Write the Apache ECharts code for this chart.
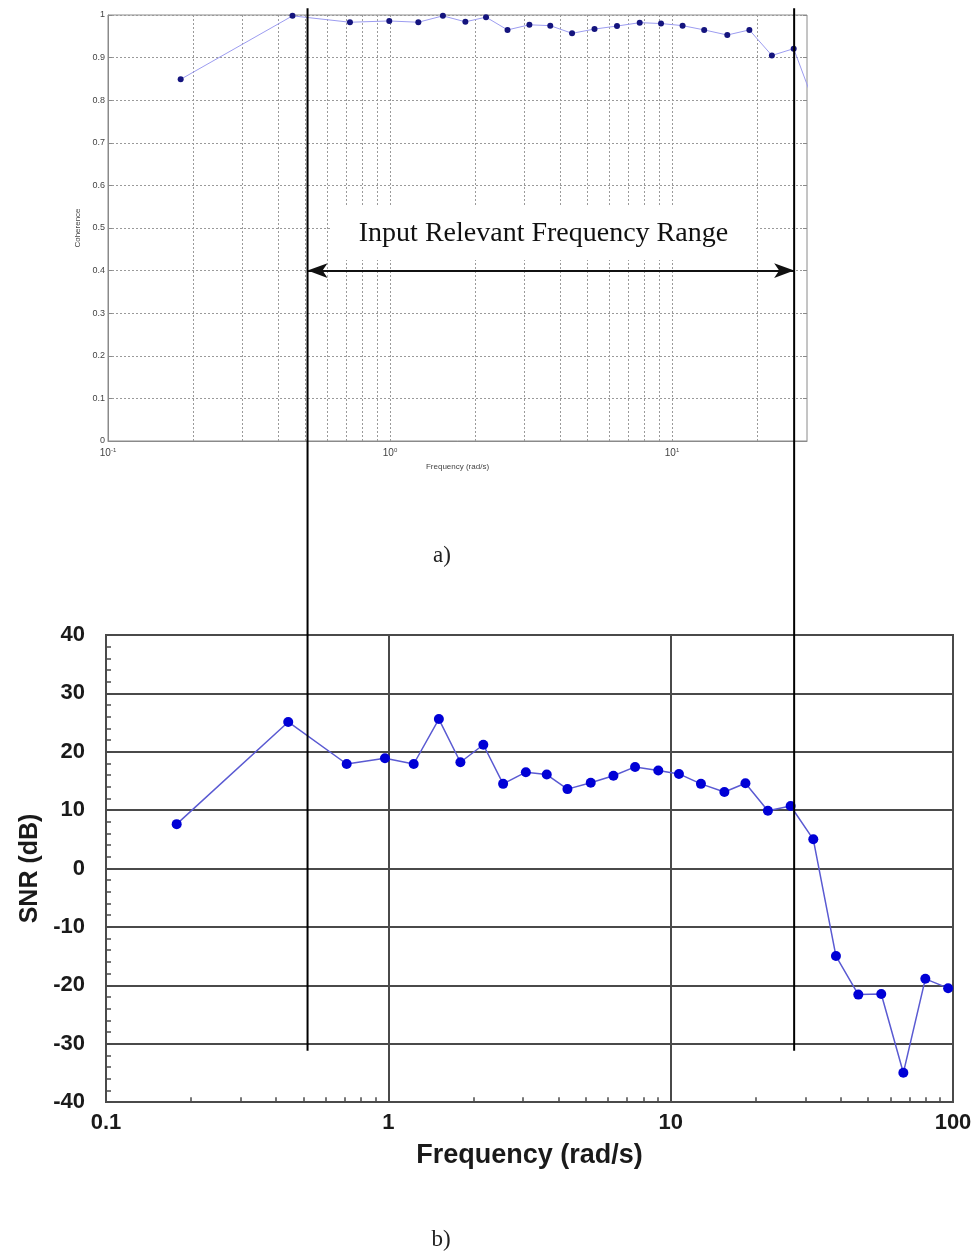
<!DOCTYPE html>
<html>
<head>
<meta charset="utf-8">
<script src="https://cdn.jsdelivr.net/npm/echarts@6/dist/echarts.min.js"></script>
<style>
html, body { margin: 0; padding: 0; background: #fff; }
#main { width: 976px; height: 1258px; }
</style>
</head>
<body>
<div id="main"></div>
<script>
// (a) coherence vs frequency
var cohFreq = [0.181, 0.451, 0.721, 0.994, 1.26, 1.54, 1.85, 2.19, 2.61, 3.12, 3.70, 4.42, 5.31, 6.38, 7.68, 9.14, 10.9, 13.0, 15.7, 18.8, 22.6, 27.0, 32.0];
var cohVal  = [0.849, 0.998, 0.983, 0.986, 0.983, 0.998, 0.984, 0.995, 0.965, 0.977, 0.975, 0.957, 0.967, 0.974, 0.982, 0.980, 0.975, 0.965, 0.953, 0.965, 0.905, 0.921, 0.79];

// (b) SNR vs frequency
var snrFreq = [0.178, 0.442, 0.712, 0.973, 1.23, 1.51, 1.80, 2.17, 2.55, 3.07, 3.64, 4.31, 5.21, 6.27, 7.48, 9.04, 10.7, 12.8, 15.5, 18.4, 22.1, 26.6, 32.0, 38.5, 46.2, 55.7, 66.7, 79.8, 96.1];
var snrVal  = [7.6, 25.1, 17.9, 18.9, 17.9, 25.6, 18.2, 21.2, 14.5, 16.5, 16.1, 13.6, 14.7, 15.9, 17.4, 16.8, 16.2, 14.5, 13.1, 14.6, 9.9, 10.7, 5.0, -15.0, -21.6, -21.5, -35.0, -18.9, -20.5];

// grid / tick positions on the log axes
var cohGridFreq = [0.2, 0.3, 0.4, 0.5, 0.6, 0.7, 0.8, 0.9, 1, 2, 3, 4, 5, 6, 7, 8, 9, 10, 20];
var snrMinorFreq = [0.2, 0.3, 0.4, 0.5, 0.6, 0.7, 0.8, 0.9, 2, 3, 4, 5, 6, 7, 8, 9, 20, 30, 40, 50, 60, 70, 80, 90];

// annotation
var rangeEdges = [0.51, 27.1];
var arrowLevel = 0.4;
var rangeLabel = 'Input Relevant Frequency Range';

function zip(xs, ys) {
    return xs.map(function (x, i) { return [x, ys[i]]; });
}

var serif = '"Liberation Serif", "Times New Roman", serif';
var sans = '"Liberation Sans", Arial, sans-serif';
var gridGrey = '#9a9a9a';

var chart = echarts.init(document.getElementById('main'));

chart.setOption({
    animation: false,
    backgroundColor: '#fff',
    grid: [
        { left: 108, top: 15, width: 699, height: 426, show: true, borderColor: '#8a8a8a', borderWidth: 1 },
        { left: 106, top: 635, width: 847, height: 467, show: true, borderColor: '#4a4a4a', borderWidth: 2 }
    ],
    xAxis: [
        {
            type: 'log', gridIndex: 0, min: 0.1, max: 30.1,
            axisLine: { lineStyle: { color: '#8a8a8a', width: 1 } },
            axisTick: { show: false },
            splitLine: { show: false },
            axisLabel: {
                showMaxLabel: false, margin: 6, color: '#444', fontFamily: sans,
                formatter: function (v) {
                    return '{b|10}{s|' + Math.round(Math.log10(v)) + '}';
                },
                rich: {
                    b: { fontSize: 10, color: '#444', fontFamily: sans },
                    s: { fontSize: 6, color: '#444', fontFamily: sans, padding: [0, 0, 7, 0] }
                }
            },
            name: 'Frequency (rad/s)', nameLocation: 'middle', nameGap: 22,
            nameTextStyle: { fontSize: 8, color: '#444', fontFamily: sans }
        },
        {
            type: 'log', gridIndex: 1, min: 0.1, max: 100,
            axisLine: { lineStyle: { color: '#4a4a4a', width: 2 } },
            axisTick: { show: false },
            splitLine: { show: true, lineStyle: { color: '#4a4a4a', width: 2 } },
            axisLabel: {
                margin: 10, fontSize: 22, fontWeight: 'bold', color: '#1a1a1a', fontFamily: sans,
                formatter: function (v) { return String(+(+v).toPrecision(3)); }
            },
            name: 'Frequency (rad/s)', nameLocation: 'middle', nameGap: 40,
            nameTextStyle: { fontSize: 27, fontWeight: 'bold', color: '#1a1a1a', fontFamily: sans }
        }
    ],
    yAxis: [
        {
            type: 'value', gridIndex: 0, min: 0, max: 1, interval: 0.1,
            axisLine: { show: true, lineStyle: { color: '#8a8a8a', width: 1 } },
            axisTick: { show: true, inside: true, length: 4, lineStyle: { color: '#8a8a8a' } },
            splitLine: { show: true, lineStyle: { color: gridGrey, type: [2, 2], width: 1 } },
            axisLabel: { fontSize: 9, color: '#444', margin: 3, fontFamily: sans },
            name: 'Coherence', nameLocation: 'middle', nameGap: 26,
            nameTextStyle: { fontSize: 8, color: '#444', fontFamily: sans }
        },
        {
            type: 'value', gridIndex: 0, min: 0, max: 1, interval: 0.1, position: 'right',
            axisLine: { show: false },
            axisTick: { show: true, inside: true, length: 4, lineStyle: { color: '#8a8a8a' } },
            splitLine: { show: false },
            axisLabel: { show: false }
        },
        {
            type: 'value', gridIndex: 1, min: -40, max: 40, interval: 10,
            axisLine: { show: true, lineStyle: { color: '#4a4a4a', width: 2 } },
            axisTick: { show: true, inside: true, length: 6, lineStyle: { color: '#4a4a4a', width: 1.5 } },
            minorTick: { show: true, splitNumber: 5, length: 5, lineStyle: { color: '#4a4a4a', width: 1.5 } },
            splitLine: { show: true, lineStyle: { color: '#4a4a4a', width: 2 } },
            axisLabel: { fontSize: 22, fontWeight: 'bold', color: '#1a1a1a', margin: 21, fontFamily: sans },
            name: 'SNR (dB)', nameLocation: 'middle', nameGap: 58,
            nameTextStyle: { fontSize: 25, fontWeight: 'bold', color: '#1a1a1a', fontFamily: sans }
        }
    ],
    series: [
        {
            name: 'Coherence', type: 'line', xAxisIndex: 0, yAxisIndex: 0,
            data: zip(cohFreq, cohVal),
            symbol: 'circle', symbolSize: 6,
            lineStyle: { color: '#9c9cf0', width: 1 },
            itemStyle: { color: '#14147e' },
            z: 3,
            markLine: {
                silent: true, symbol: 'none', animation: false,
                label: { show: false },
                lineStyle: { color: gridGrey, type: [2, 2], width: 1 },
                data: cohGridFreq.map(function (f) { return { xAxis: f }; }),
                z: 1
            }
        },
        {
            name: 'Range', type: 'line', xAxisIndex: 0, yAxisIndex: 0,
            data: [], z: 4,
            markLine: {
                silent: true, animation: false,
                symbol: ['arrow', 'arrow'], symbolSize: [11, 20],
                label: { show: false },
                lineStyle: { color: '#111', type: 'solid', width: 2 },
                data: [[{ coord: [rangeEdges[0], arrowLevel] }, { coord: [rangeEdges[1], arrowLevel] }]]
            }
        },
        {
            name: 'SNR', type: 'line', xAxisIndex: 1, yAxisIndex: 2,
            data: zip(snrFreq, snrVal),
            symbol: 'circle', symbolSize: 10,
            lineStyle: { color: '#5a5ad2', width: 1.5 },
            itemStyle: { color: '#0000d6' },
            z: 3,
            markLine: {
                silent: true, symbol: 'none', animation: false,
                label: { show: false },
                lineStyle: { color: '#4a4a4a', type: 'solid', width: 1.5 },
                data: snrMinorFreq.map(function (f) {
                    return [{ coord: [f, -40] }, { coord: [f, -39.2] }];
                })
            }
        }
    ]
});

// vertical range lines spanning both plots, label box and captions
var graphics = [];
rangeEdges.forEach(function (f) {
    var x = chart.convertToPixel({ gridIndex: 0 }, [f, 1])[0];
    var y0 = chart.convertToPixel({ gridIndex: 0 }, [f, 1.016])[1];
    var y1 = chart.convertToPixel({ gridIndex: 1 }, [f, -31.2])[1];
    graphics.push({
        type: 'line', z: 100,
        shape: { x1: x, y1: y0, x2: x, y2: y1 },
        style: { stroke: '#000', lineWidth: 2 }
    });
});
var lp = chart.convertToPixel({ gridIndex: 0 }, [3.5, 0.487]);
graphics.push({
    type: 'text', z: 90, x: lp[0], y: lp[1],
    style: {
        text: rangeLabel, font: '28px ' + serif, fill: '#111',
        align: 'center', verticalAlign: 'middle',
        backgroundColor: '#fff', padding: [13, 27, 12, 27]
    }
});
graphics.push({
    type: 'text', x: 442, y: 556,
    style: { text: 'a)', font: '23px ' + serif, fill: '#222', align: 'center', verticalAlign: 'middle' }
});
graphics.push({
    type: 'text', x: 441, y: 1240,
    style: { text: 'b)', font: '23px ' + serif, fill: '#222', align: 'center', verticalAlign: 'middle' }
});
chart.setOption({ graphic: graphics });
</script>
</body>
</html>
